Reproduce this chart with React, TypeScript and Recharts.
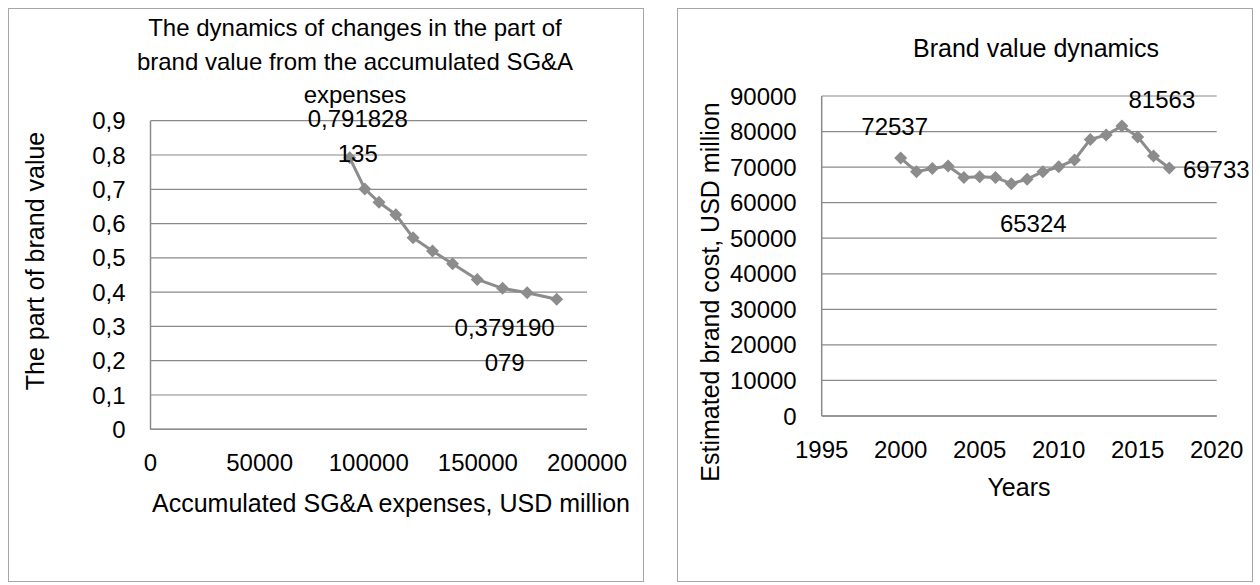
import React from 'react';
import { LineChart, Line, XAxis, YAxis, CartesianGrid, LabelList } from 'recharts';

// left chart: share of brand value vs accumulated SG&A
const sgaExpenses = [91300, 98200, 104700, 112400, 120300, 129200, 138400, 149700, 161300, 172600, 186100];
const brandShare = [0.791828135, 0.701, 0.662, 0.626, 0.559, 0.52, 0.483, 0.437, 0.411, 0.398, 0.379190079];
const shareTicks = [0, 0.1, 0.2, 0.3, 0.4, 0.5, 0.6, 0.7, 0.8, 0.9];
const sgaTicks = [0, 50000, 100000, 150000, 200000];

// right chart: brand value by year
const years = [2000, 2001, 2002, 2003, 2004, 2005, 2006, 2007, 2008, 2009, 2010, 2011, 2012, 2013, 2014, 2015, 2016, 2017];
const brandValue = [72537, 68700, 69600, 70300, 67100, 67300, 67100, 65324, 66600, 68700, 70100, 72000, 77800, 79000, 81563, 78500, 73100, 69733];
const valueTicks = [0, 10000, 20000, 30000, 40000, 50000, 60000, 70000, 80000, 90000];
const yearTicks = [1995, 2000, 2005, 2010, 2015, 2020];

const leftTitle = ['The dynamics of changes in the part of', 'brand value from the accumulated SG&A', 'expenses'];

const FONT = '"Liberation Sans", Arial, sans-serif';
const SERIES = '#8c8c8c';
const GRID = '#8a8a8a';
const FRAME = '#a6a6a6';

const leftData = sgaExpenses.map((x, i) => ({ x, y: brandShare[i] }));
const rightData = years.map((x, i) => ({ x, y: brandValue[i] }));

// which points carry a data label, and where the text sits relative to the point
const leftLabelPos: Record<number, { dx: number; dy: number }> = {
  0: { dx: 8, dy: -39 },
  10: { dx: -52, dy: 28 },
};
const rightLabelPos: Record<number, { dx: number; dy: number }> = {
  0: { dx: -6, dy: -32 },
  7: { dx: 22, dy: 40 },
  14: { dx: 40, dy: -26 },
  17: { dx: 47, dy: 1 },
};

const commaNum = (v: number) => (v === 0 ? '0' : String(Math.round(v * 10) / 10).replace('.', ','));

const Diamond = (props: any) => {
  const { cx, cy, index } = props;
  if (cx == null || cy == null) return <g key={`d${index}`} />;
  const r = 6.5;
  return (
    <path
      key={`d${index}`}
      d={`M${cx},${cy - r}L${cx + r},${cy}L${cx},${cy + r}L${cx - r},${cy}Z`}
      fill={SERIES}
    />
  );
};

function makeLabel(pos: Record<number, { dx: number; dy: number }>, wrap: boolean) {
  return (props: any) => {
    const { index, value } = props;
    const p = pos[index];
    if (!p) return null;
    const x = props.x ?? props.viewBox?.x;
    const y = props.y ?? props.viewBox?.y;
    const s = wrap ? String(value).replace('.', ',') : String(value);
    const lines = wrap ? [s.slice(0, 8), s.slice(8)] : [s];
    return (
      <g>
        {lines.map((t, k) => (
          <text
            key={k}
            x={x + p.dx}
            y={y + p.dy + k * 35}
            textAnchor="middle"
            dominantBaseline="central"
            fontSize={24}
            fontFamily={FONT}
            fill="#000"
          >
            {t}
          </text>
        ))}
      </g>
    );
  };
}

const tickStyle = { fill: '#000', fontSize: 24, fontFamily: FONT };
const axisLine = { stroke: GRID, strokeWidth: 1.5 };

const textAt = (cx: number, cy: number, size: number, rotate = 0): React.CSSProperties => ({
  position: 'absolute',
  left: cx,
  top: cy,
  transform: `translate(-50%, -50%) rotate(${rotate}deg)`,
  whiteSpace: 'nowrap',
  fontSize: size,
  lineHeight: 1,
  fontFamily: FONT,
  color: '#000',
});

const titleRows = [28, 62, 95];

export default function App() {
  return (
    <div style={{ position: 'absolute', left: 0, top: 0, width: 1260, height: 585, background: '#fff', fontFamily: FONT }}>
      <div style={{ position: 'absolute', left: 8, top: 8, width: 636, height: 574, border: `1.5px solid ${FRAME}`, boxSizing: 'border-box' }} />
      <div style={{ position: 'absolute', left: 677, top: 8, width: 576, height: 574, border: `1.5px solid ${FRAME}`, boxSizing: 'border-box' }} />

      <div style={{ position: 'absolute', left: 0, top: 0 }}>
        <LineChart width={644} height={585} data={leftData} margin={{ top: 120.7, right: 57, bottom: 95.7, left: 0 }}>
          <CartesianGrid vertical={false} stroke={GRID} strokeWidth={1.2} />
          <XAxis
            dataKey="x"
            type="number"
            domain={[0, 200000]}
            ticks={sgaTicks}
            interval={0}
            height={60}
            tick={tickStyle}
            tickLine={false}
            tickSize={0}
            tickMargin={25}
            axisLine={axisLine}
          />
          <YAxis
            type="number"
            domain={[0, 0.9]}
            ticks={shareTicks}
            interval={0}
            width={150.5}
            tick={tickStyle}
            tickFormatter={commaNum}
            tickLine={false}
            tickSize={0}
            tickMargin={25}
            axisLine={axisLine}
          />
          <Line dataKey="y" stroke={SERIES} strokeWidth={3} dot={Diamond} isAnimationActive={false}>
            <LabelList dataKey="y" content={makeLabel(leftLabelPos, true)} />
          </Line>
        </LineChart>
      </div>

      <div style={{ position: 'absolute', left: 660, top: 0 }}>
        <LineChart width={600} height={585} data={rightData} margin={{ top: 96, right: 43.3, bottom: 109, left: 0 }}>
          <CartesianGrid vertical={false} stroke={GRID} strokeWidth={1.2} />
          <XAxis
            dataKey="x"
            type="number"
            domain={[1995, 2020]}
            ticks={yearTicks}
            interval={0}
            height={60}
            tick={tickStyle}
            tickLine={false}
            tickSize={0}
            tickMargin={25}
            axisLine={axisLine}
          />
          <YAxis
            type="number"
            domain={[0, 90000]}
            ticks={valueTicks}
            interval={0}
            width={161.7}
            tick={tickStyle}
            tickLine={false}
            tickSize={0}
            tickMargin={25}
            axisLine={axisLine}
          />
          <Line dataKey="y" stroke={SERIES} strokeWidth={3} dot={Diamond} isAnimationActive={false}>
            <LabelList dataKey="y" content={makeLabel(rightLabelPos, false)} />
          </Line>
        </LineChart>
      </div>

      {leftTitle.map((t, i) => (
        <div key={t} style={textAt(355, titleRows[i], 24)}>
          {t}
        </div>
      ))}
      <div style={textAt(391, 503, 25)}>Accumulated SG&amp;A expenses, USD million</div>
      <div style={textAt(35, 261, 25, -90)}>The part of brand value</div>

      <div style={textAt(1036, 48, 25)}>Brand value dynamics</div>
      <div style={textAt(1019, 487, 25)}>Years</div>
      <div style={textAt(710, 292, 25, -90)}>Estimated brand cost, USD million</div>
    </div>
  );
}
